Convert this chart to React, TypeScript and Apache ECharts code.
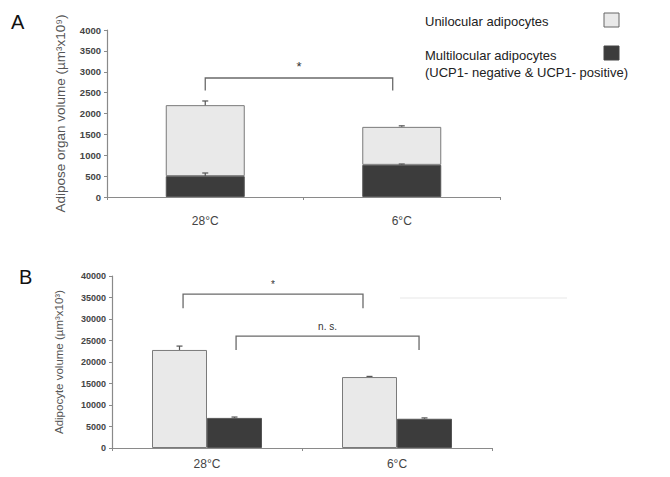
import React, { useEffect, useRef } from "react";
import * as echarts from "echarts";

// ---- data ----
const categories = ["28°C", "6°C"];
const seriesNames = ["Unilocular adipocytes", "Multilocular adipocytes\n(UCP1- negative & UCP1- positive)"];

// Panel A (stacked)
const multiA = [500, 770];
const uniA = [1700, 910];
const multiErrA = [75, 20];
const uniErrA = [100, 25];

// Panel B (grouped)
const uniB = [22800, 16500];
const multiB = [7000, 6800];
const uniErrB = [900, 150];
const multiErrB = [200, 200];

// significance brackets: [cat1, frac1, cat2, frac2, top, legBottom]
const bracketsA = [[0, 0.0, 1, -0.046, 2850, 2550]];
const bracketLabelsA = ["*"];
const bracketsB = [
  [0, -0.126, 1, -0.179, 35800, 32500],
  [0, 0.153, 1, 0.116, 26000, 22800],
];
const bracketLabelsB = ["*", "n. s."];

const FONT = "Liberation Sans, Arial, sans-serif";
const LIGHT = "#e9e9e9";
const DARK = "#3c3c3c";
const AXIS = "#8a8a8a";

function errorSeries(xi: number, tops: number[], errs: number[], pxOffset: number) {
  return {
    type: "custom",
    xAxisIndex: xi,
    yAxisIndex: xi,
    silent: true,
    z: 5,
    encode: { x: 0, y: 1 },
    data: tops.map((t, i) => [i, t, errs[i]]),
    renderItem: (params: any, api: any) => {
      const x = api.value(0);
      const y = api.value(1);
      const e = api.value(2);
      const p0 = api.coord([x, y]);
      const p1 = api.coord([x, y + e]);
      const cx = p0[0] + pxOffset;
      const st = { stroke: "#555", lineWidth: 1.2 };
      return {
        type: "group",
        children: [
          { type: "line", shape: { x1: cx, y1: p0[1], x2: cx, y2: p1[1] }, style: st },
          { type: "line", shape: { x1: cx - 3, y1: p1[1], x2: cx + 3, y2: p1[1] }, style: st },
        ],
      };
    },
  };
}

function bracketSeries(xi: number, brackets: number[][], labels: string[], fontSize: number) {
  return {
    type: "custom",
    xAxisIndex: xi,
    yAxisIndex: xi,
    silent: true,
    z: 6,
    encode: { x: 0, y: 4 },
    data: brackets,
    renderItem: (params: any, api: any) => {
      const c1 = api.value(0);
      const f1 = api.value(1);
      const c2 = api.value(2);
      const f2 = api.value(3);
      const top = api.value(4);
      const leg = api.value(5);
      const band = api.size([1, 0])[0];
      const a = api.coord([c1, top]);
      const b = api.coord([c2, top]);
      const lb = api.coord([c1, leg]);
      const x1 = a[0] + f1 * band;
      const x2 = b[0] + f2 * band;
      const st = { stroke: "#6a6a6a", lineWidth: 1.3, fill: "none" };
      return {
        type: "group",
        children: [
          {
            type: "polyline",
            shape: { points: [[x1, lb[1]], [x1, a[1]], [x2, a[1]], [x2, lb[1]]] },
            style: st,
          },
          {
            type: "text",
            x: (x1 + x2) / 2,
            y: a[1] - 5,
            style: {
              text: labels[params.dataIndex],
              fill: "#333",
              fontSize,
              fontFamily: FONT,
              align: "center",
              verticalAlign: "bottom",
            },
          },
        ],
      };
    },
  };
}

export default function App() {
  const ref = useRef<HTMLDivElement>(null);
  useEffect(() => {
    if (!ref.current) return;
    const chart = echarts.init(ref.current, undefined, { renderer: "svg" });
    const fmt = (v: number) => String(v);
    const axisLine = { show: true, lineStyle: { color: AXIS, width: 1.2 } };
    const axisTick = { show: true, length: 3, lineStyle: { color: AXIS } };
    chart.setOption({
      animation: false,
      backgroundColor: "#fff",
      grid: [
        { left: 107, top: 30, width: 393, height: 167 },
        { left: 112, top: 276, width: 380, height: 172 },
      ],
      xAxis: [
        {
          type: "category",
          gridIndex: 0,
          data: categories,
          axisLine,
          axisTick: { ...axisTick, interval: 0 },
          axisLabel: { fontSize: 12, color: "#444", fontFamily: FONT, margin: 18 },
        },
        {
          type: "category",
          gridIndex: 1,
          data: categories,
          axisLine,
          axisTick: { ...axisTick, interval: 0 },
          axisLabel: { fontSize: 12, color: "#444", fontFamily: FONT, margin: 10 },
        },
      ],
      yAxis: [
        {
          type: "value",
          gridIndex: 0,
          min: 0,
          max: 4000,
          interval: 500,
          splitLine: { show: false },
          axisLine,
          axisTick,
          axisLabel: { fontSize: 9.5, fontWeight: "bold", color: "#444", fontFamily: FONT, margin: 6, formatter: fmt },
          name: "Adipose organ volume (µm³x10⁹)",
          nameLocation: "middle",
          nameRotate: 90,
          nameGap: 40,
          nameTextStyle: { fontSize: 13.5, color: "#555", fontFamily: FONT },
        },
        {
          type: "value",
          gridIndex: 1,
          min: 0,
          max: 40000,
          interval: 5000,
          splitLine: { show: false },
          axisLine,
          axisTick,
          axisLabel: { fontSize: 9, fontWeight: "bold", color: "#444", fontFamily: FONT, margin: 6, formatter: fmt },
          name: "Adipocyte volume (µm³x10³)",
          nameLocation: "middle",
          nameRotate: 90,
          nameGap: 47,
          nameTextStyle: { fontSize: 11.5, color: "#555", fontFamily: FONT },
        },
      ],
      series: [
        {
          name: seriesNames[1],
          type: "bar",
          xAxisIndex: 0,
          yAxisIndex: 0,
          stack: "a",
          barWidth: 79,
          data: multiA,
          itemStyle: { color: DARK, borderColor: "#555", borderWidth: 1 },
        },
        {
          name: seriesNames[0],
          type: "bar",
          xAxisIndex: 0,
          yAxisIndex: 0,
          stack: "a",
          barWidth: 79,
          data: uniA,
          itemStyle: { color: LIGHT, borderColor: "#7a7a7a", borderWidth: 1 },
        },
        errorSeries(0, multiA, multiErrA, 0),
        errorSeries(0, multiA.map((m, i) => m + uniA[i]), uniErrA, 0),
        bracketSeries(0, bracketsA, bracketLabelsA, 13),
        {
          name: seriesNames[0],
          type: "bar",
          xAxisIndex: 1,
          yAxisIndex: 1,
          barWidth: 55,
          barGap: "0%",
          data: uniB,
          itemStyle: { color: LIGHT, borderColor: "#7a7a7a", borderWidth: 1 },
        },
        {
          name: seriesNames[1],
          type: "bar",
          xAxisIndex: 1,
          yAxisIndex: 1,
          barWidth: 55,
          barGap: "0%",
          data: multiB,
          itemStyle: { color: DARK, borderColor: "#555", borderWidth: 1 },
        },
        errorSeries(1, uniB, uniErrB, -27.5),
        errorSeries(1, multiB, multiErrB, 27.5),
        bracketSeries(1, bracketsB, bracketLabelsB, 10),
      ],
      graphic: [
        { type: "text", x: 11, y: 12, style: { text: "A", fontSize: 20, fill: "#111", fontFamily: FONT } },
        { type: "text", x: 19, y: 267, style: { text: "B", fontSize: 20, fill: "#111", fontFamily: FONT } },
        {
          type: "text",
          x: 425,
          y: 21,
          style: { text: seriesNames[0], fontSize: 13, fill: "#222", fontFamily: FONT, verticalAlign: "middle" },
        },
        {
          type: "rect",
          shape: { x: 604, y: 13, width: 15, height: 14 },
          style: { fill: LIGHT, stroke: "#666", lineWidth: 1 },
        },
        {
          type: "text",
          x: 425,
          y: 55,
          style: { text: "Multilocular adipocytes", fontSize: 13, fill: "#222", fontFamily: FONT, verticalAlign: "middle" },
        },
        {
          type: "text",
          x: 425,
          y: 72,
          style: {
            text: "(UCP1- negative & UCP1- positive)",
            fontSize: 13,
            fill: "#222",
            fontFamily: FONT,
            verticalAlign: "middle",
          },
        },
        {
          type: "rect",
          shape: { x: 604, y: 46, width: 15, height: 14 },
          style: { fill: DARK, stroke: "#444", lineWidth: 1 },
        },
        {
          type: "line",
          shape: { x1: 400, y1: 298, x2: 567, y2: 298 },
          style: { stroke: "#f3f3f3", lineWidth: 2 },
        },
      ],
    });
    return () => chart.dispose();
  }, []);
  return <div ref={ref} style={{ position: "fixed", left: 0, top: 0, width: 670, height: 477 }} />;
}
